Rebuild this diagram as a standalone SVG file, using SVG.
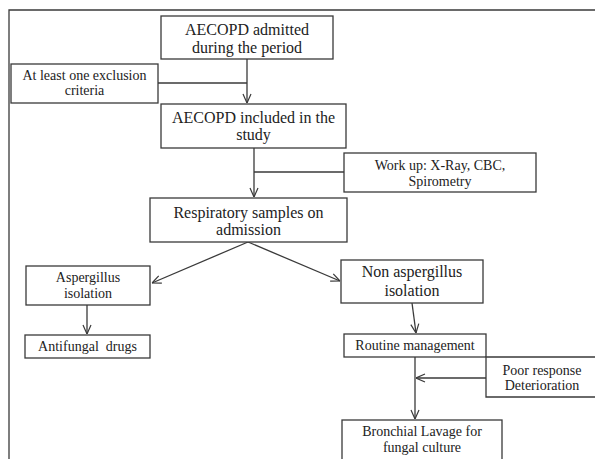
<svg xmlns="http://www.w3.org/2000/svg" width="595" height="459" viewBox="0 0 595 459">
<style>
.b{fill:#fff;stroke:#3a3a3a;stroke-width:1.3}
.c{fill:none;stroke:#3a3a3a;stroke-width:1.3}
text{font-family:"Liberation Serif","Times New Roman",serif;fill:#222;text-anchor:middle}
.l{font-size:16px}
.s{font-size:14px}
</style>
<defs>
<marker id="a" viewBox="0 0 10 10" refX="10" refY="5" markerWidth="10" markerHeight="10" markerUnits="userSpaceOnUse" orient="auto">
<path d="M1,1 L10,5 L1,9" fill="none" stroke="#3a3a3a" stroke-width="1.2"/>
</marker>
</defs>
<rect width="595" height="459" fill="#fff"/>
<path class="c" d="M9,459 V10 H596"/>
<g id="connectors">
<path class="c" d="M247,59 V103" marker-end="url(#a)"/>
<path class="c" d="M158,83 H247"/>
<path class="c" d="M254,148 V197" marker-end="url(#a)"/>
<path class="c" d="M254,172 H344"/>
<path class="c" d="M248,242 L152,283" marker-end="url(#a)"/>
<path class="c" d="M248,242 L340,281" marker-end="url(#a)"/>
<path class="c" d="M87,305 V334" marker-end="url(#a)"/>
<path class="c" d="M412,303 L416,333" marker-end="url(#a)"/>
<path class="c" d="M415,357 V419" marker-end="url(#a)"/>
<path class="c" d="M486,378 H416" marker-end="url(#a)"/>
</g>
<g id="n1"><rect class="b" x="161" y="16" width="172" height="43"/><text class="l" x="247" y="35">AECOPD admitted</text><text class="l" x="247" y="53">during the period</text></g>
<g id="n2"><rect class="b" x="11" y="64" width="147" height="39"/><text class="s" x="84.5" y="80">At least one exclusion</text><text class="s" x="84.5" y="95">criteria</text></g>
<g id="n3"><rect class="b" x="161" y="104" width="185" height="44"/><text class="l" x="253.5" y="123">AECOPD included in the</text><text class="l" x="253.5" y="140">study</text></g>
<g id="n4"><rect class="b" x="344" y="153" width="192" height="39"/><text class="s" x="440" y="170">Work up: X-Ray, CBC,</text><text class="s" x="440" y="186">Spirometry</text></g>
<g id="n5"><rect class="b" x="150" y="198" width="197" height="44"/><text class="l" x="248.5" y="218">Respiratory samples on</text><text class="l" x="248.5" y="235">admission</text></g>
<g id="n6"><rect class="b" x="26" y="266" width="124" height="39"/><text class="s" x="88" y="282">Aspergillus</text><text class="s" x="88" y="298">isolation</text></g>
<g id="n7"><rect class="b" x="25" y="335" width="125" height="23"/><text class="s" x="87.5" y="351" xml:space="preserve">Antifungal  drugs</text></g>
<g id="n8"><rect class="b" x="341" y="260" width="142" height="43"/><text class="l" x="412" y="277">Non aspergillus</text><text class="l" x="412" y="296">isolation</text></g>
<g id="n9"><rect class="b" x="344" y="334" width="142" height="23"/><text class="s" x="415" y="350">Routine management</text></g>
<g id="n10"><path class="b" d="M597,357 H486 V397 H597"/><text class="s" x="542" y="375">Poor response</text><text class="s" x="542" y="390">Deterioration</text></g>
<g id="n11"><rect class="b" x="342" y="420" width="160" height="45"/><text class="s" x="422" y="436">Bronchial Lavage for</text><text class="s" x="422" y="452">fungal culture</text></g>
</svg>
